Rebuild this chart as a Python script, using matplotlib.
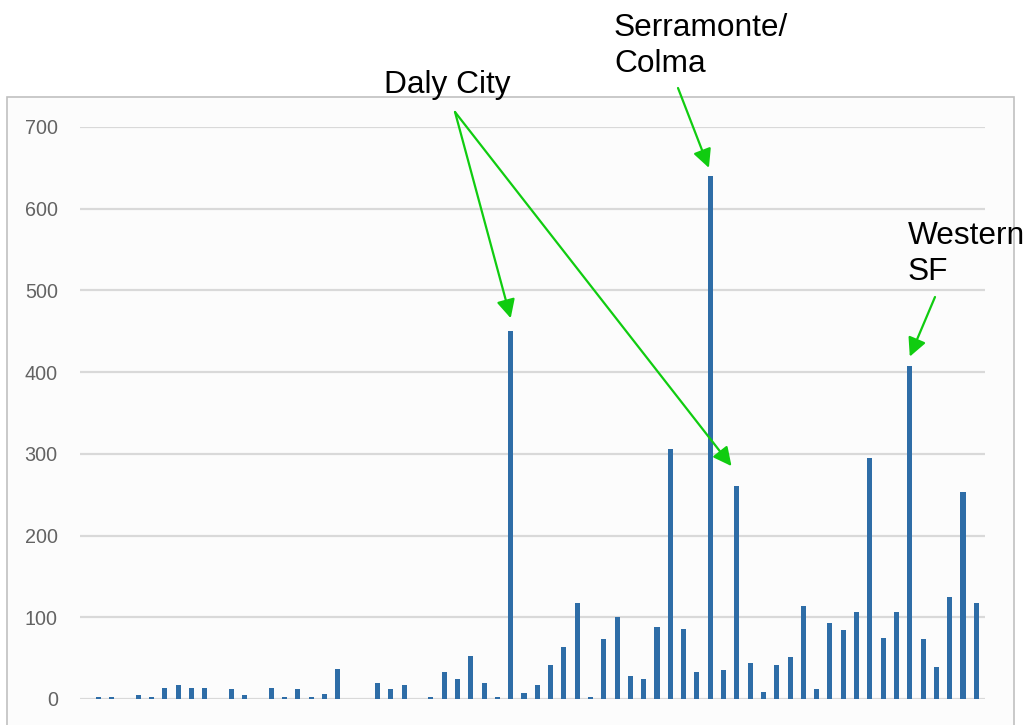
import numpy as np
import matplotlib.pyplot as plt
from matplotlib.patches import Rectangle

# bar heights, one slot per area (0 = empty slot)
values = [3, 2, 0, 5, 3, 14, 17, 14, 14, 0,
          12, 5, 0, 14, 3, 12, 3, 6, 37, 0,
          0, 20, 12, 17, 0, 3, 33, 25, 53, 20,
          2, 450, 7, 17, 41, 64, 117, 3, 73, 100,
          28, 25, 88, 306, 86, 33, 640, 36, 261, 44,
          9, 42, 51, 114, 12, 93, 84, 106, 295, 75,
          106, 407, 73, 39, 125, 253, 117]
yticks = [0, 100, 200, 300, 400, 500, 600, 700]

# callouts: label, bar index, text position (figure px, from top-left)
callouts = [
    ("Daly City", [31, 48], (384, 93)),
    ("Serramonte/\nColma", [46], (614, 72)),
    ("Western\nSF", [61], (908, 280)),
]

W, H = 1027, 725
fig = plt.figure(figsize=(W / 100, H / 100), dpi=100)
fig.patch.set_facecolor("white")

# light panel with grey frame behind the chart
fig.patches.append(Rectangle((7, -10), 1007, H - 97 + 10, transform=None,
                             facecolor="#fcfcfc", edgecolor="#c0c0c0",
                             linewidth=1.2, zorder=-5))

x0, x1 = 80, 985
ax = fig.add_axes([x0 / W, (H - 699) / H, (x1 - x0) / W, (699 - 127) / H])
ax.set_facecolor("none")
ax.set_zorder(1)

step = 13.3
xs = np.arange(len(values))
ax.bar(xs, values, width=0.38, color="#2e6da7", zorder=3)
ax.set_xlim(-(98.3 - x0) / step, len(values) - 1 + (x1 - 976.3) / step)
ax.set_ylim(0, 700)
ax.set_yticks(yticks)
ax.set_xticks([])
ax.grid(axis="y", color="#d9d9d9", linewidth=1.6, zorder=0)
ax.tick_params(axis="y", length=0, pad=16, labelsize=14.2, labelcolor="#636363")
for s in ax.spines.values():
    s.set_visible(False)
for lab in ax.get_yticklabels():
    lab.set_family("Liberation Sans")

green = "#10cc10"
arrow_start = {31: (455, 112), 48: (455, 112), 46: (678, 88), 61: (935, 297)}
tip_off = {31: (0, 16), 48: (-0.4, 24), 46: (-0.1, 10), 61: (0, 12)}

for label, idxs, (tx, ty) in callouts:
    fig.text(tx / W, (H - ty) / H, label, fontsize=22.8, family="Liberation Sans",
             ha="left", va="baseline", linespacing=1.25, zorder=5)
    for i in idxs:
        sx, sy = arrow_start[i]
        dx, dy = tip_off[i]
        ax.annotate("", xy=(i + dx, values[i] + dy), xycoords="data",
                    xytext=(sx, H - sy), textcoords="figure pixels",
                    annotation_clip=False,
                    arrowprops=dict(arrowstyle="-|>", color=green, lw=1.6,
                                    mutation_scale=28, shrinkA=0, shrinkB=0))

fig.savefig("out.png", dpi=100)
